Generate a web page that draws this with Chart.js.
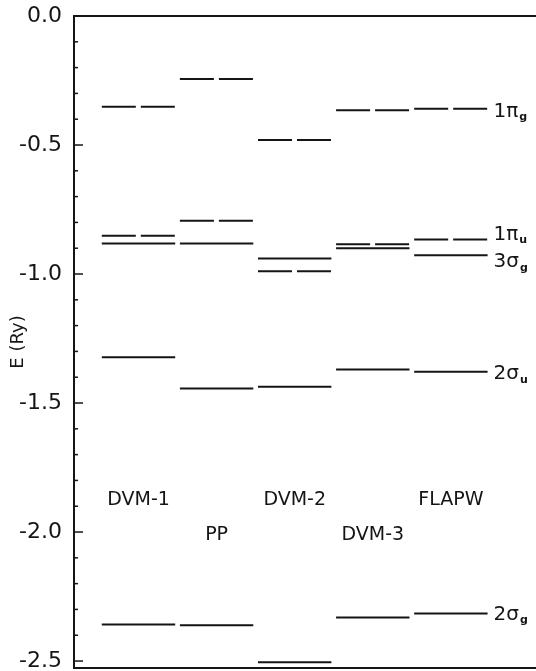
<!DOCTYPE html>
<html>
<head>
<meta charset="utf-8">
<script src="https://cdn.jsdelivr.net/npm/chart.js@4"></script>
<style>
  html, body { margin: 0; padding: 0; background: #fff; }
</style>
</head>
<body>
<canvas id="myCanvas" width="536" height="671"></canvas>
<script>
const methods = ['DVM-1', 'PP', 'DVM-2', 'DVM-3', 'FLAPW'];
const orbitals = ['1πg', '1πu', '3σg', '2σu', '2σg'];

// energy levels (Ry), one value per method
const pi_1g = [-0.352, -0.244, -0.481, -0.365, -0.359];
const pi_1u = [-0.852, -0.794, -0.989, -0.885, -0.866];
const sigma_3g = [-0.882, -0.882, -0.940, -0.900, -0.927];
const sigma_2u = [-1.323, -1.444, -1.437, -1.370, -1.379];
const sigma_2g = [-2.358, -2.361, -2.505, -2.331, -2.316];

const levels = [pi_1g, pi_1u, sigma_3g, sigma_2u, sigma_2g];
const degenerate = [true, true, false, false, false];

const ink = '#151515';
const font = '"DejaVu Sans", sans-serif';
const half = 0.47;

// each level is a short horizontal bar centred on its method column
const bars = (values) => {
  const pts = [];
  values.forEach((v, i) => {
    pts.push({ x: i - half, y: v }, { x: i + half, y: v }, { x: i + half, y: null });
  });
  return pts;
};

const extras = {
  id: 'extras',
  afterDraw(chart) {
    const { ctx, chartArea: a, scales: { x, y } } = chart;
    ctx.save();
    ctx.strokeStyle = ink;
    ctx.fillStyle = ink;

    // top and bottom frame lines
    ctx.lineWidth = 2;
    ctx.beginPath();
    ctx.moveTo(a.left, a.top);
    ctx.lineTo(a.right, a.top);
    ctx.moveTo(a.left, a.bottom);
    ctx.lineTo(a.right, a.bottom);
    ctx.stroke();

    // inward ticks every 0.1, longer every 0.5
    ctx.lineWidth = 1.5;
    for (let k = 0; k <= 25; k++) {
      const py = y.getPixelForValue(-k / 10);
      ctx.beginPath();
      ctx.moveTo(a.left, py);
      ctx.lineTo(a.left + (k % 5 === 0 ? 9 : 4), py);
      ctx.stroke();
    }

    // method names, staggered in two rows
    ctx.font = '19px ' + font;
    ctx.textAlign = 'center';
    ctx.textBaseline = 'middle';
    methods.forEach((m, i) => {
      ctx.fillText(m, x.getPixelForValue(i), y.getPixelForValue(i % 2 ? -2.01 : -1.875));
    });

    // orbital names at the right of the last column
    const nudge = [3, -5, 7, 2, 1];
    const last = methods.length - 1;
    ctx.textAlign = 'left';
    orbitals.forEach((name, j) => {
      const px = x.getPixelForValue(last + half) + 6;
      const py = y.getPixelForValue(levels[j][last]) + nudge[j];
      const main = name.slice(0, -1);
      ctx.font = '20px ' + font;
      ctx.fillText(main, px, py);
      const w = ctx.measureText(main).width;
      ctx.font = 'bold 11px ' + font;
      ctx.fillText(name.slice(-1), px + w + 1, py + 6);
    });
    ctx.restore();
  },
};

new Chart(document.getElementById('myCanvas'), {
  type: 'line',
  data: {
    datasets: levels.map((vals, j) => ({
      label: orbitals[j],
      data: bars(vals),
      borderColor: ink,
      borderWidth: 2,
      borderDash: degenerate[j] ? [34, 5] : [],
      borderCapStyle: 'butt',
      pointRadius: 0,
      spanGaps: false,
      fill: false,
      tension: 0,
    })),
  },
  options: {
    responsive: false,
    animation: false,
    layout: { padding: { top: 16, bottom: 3, left: 0, right: 0 } },
    plugins: { legend: { display: false }, tooltip: { enabled: false } },
    scales: {
      x: {
        type: 'linear',
        display: false,
        min: -0.826,
        max: 5.09,
      },
      y: {
        type: 'linear',
        min: -2.527,
        max: 0,
        afterFit: (s) => {
          s.width = 74;
          s.paddingTop = 0;
          s.paddingBottom = 0;
        },
        grid: { display: false, drawTicks: false },
        border: { display: true, color: ink, width: 2 },
        ticks: {
          stepSize: 0.5,
          includeBounds: false,
          padding: 12,
          color: ink,
          font: { family: font, size: 22 },
          callback: (v) => v.toFixed(1),
        },
        title: {
          display: true,
          text: 'E (Ry)',
          color: ink,
          font: { family: font, size: 18 },
          padding: { top: 8, bottom: 0 },
        },
      },
    },
  },
  plugins: [extras],
});
</script>
</body>
</html>
